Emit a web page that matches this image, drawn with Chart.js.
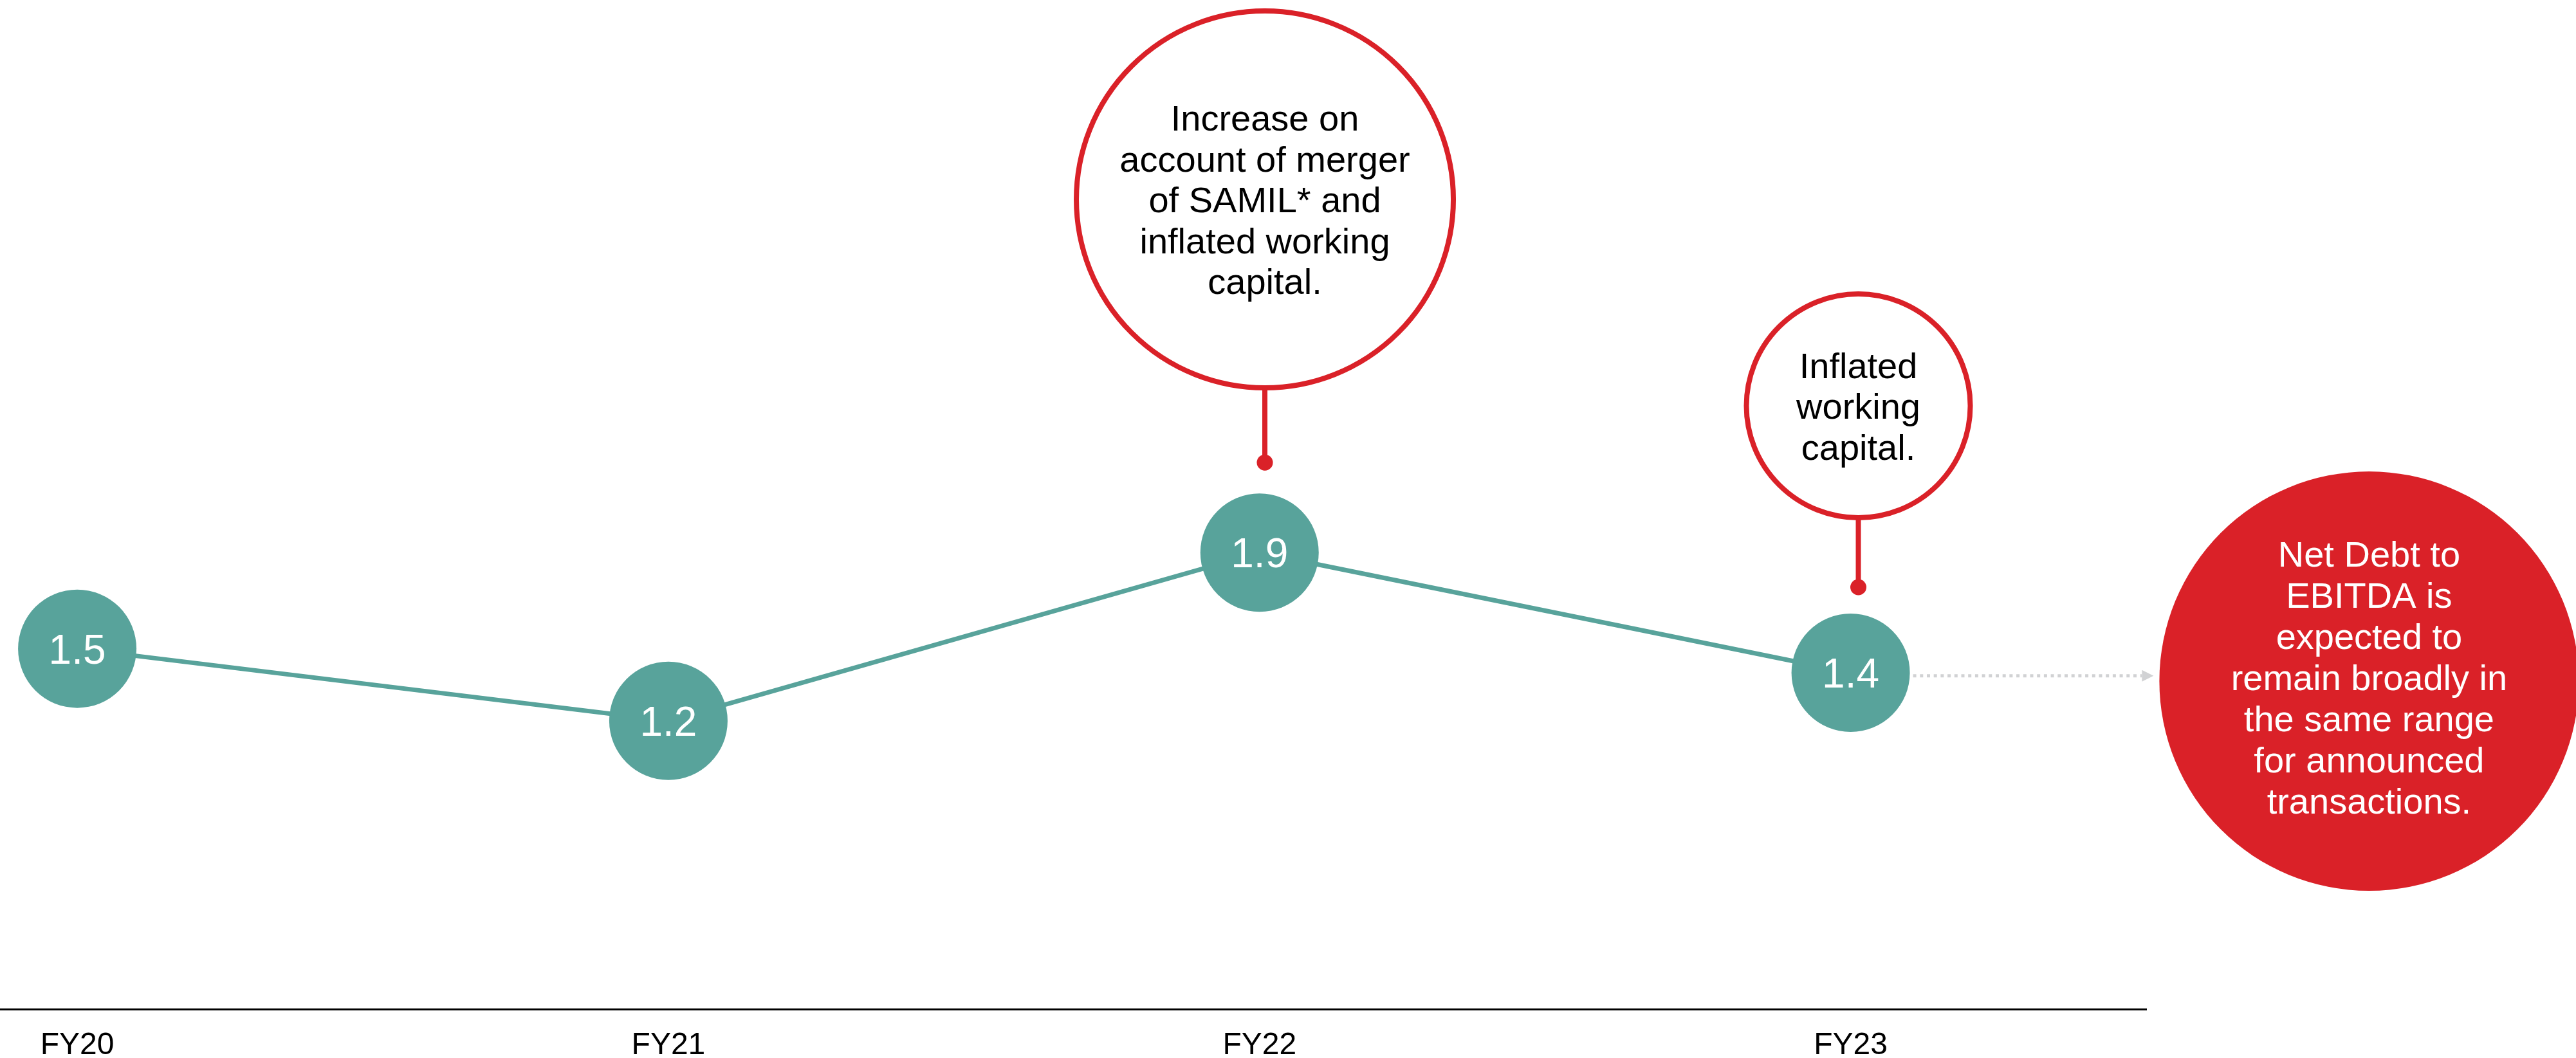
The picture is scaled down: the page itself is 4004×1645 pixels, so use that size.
<!DOCTYPE html>
<html>
<head>
<meta charset="utf-8">
<script src="https://cdn.jsdelivr.net/npm/chart.js@4"></script>
<style>
  html, body { margin: 0; padding: 0; background: #fff; overflow: hidden; }
  canvas { display: block; }
</style>
</head>
<body>
<canvas id="chart" width="4004" height="1645"></canvas>
<script>
// Net Debt to EBITDA by financial year
const categories = ['FY20', 'FY21', 'FY22', 'FY23'];
const netDebtToEbitda = [1.5, 1.2, 1.9, 1.4];

// Callout texts
const noteFY22 = ['Increase on', 'account of merger', 'of SAMIL* and', 'inflated working', 'capital.'];
const noteFY23 = ['Inflated', 'working', 'capital.'];
const outlookNote = ['Net Debt to', 'EBITDA is', 'expected to', 'remain broadly in', 'the same range', 'for announced', 'transactions.'];

const FONT = '"Liberation Sans", Arial, Helvetica, sans-serif';
const TEAL = '#58A39B';
const RED = '#DA2128';
const GREY = '#D1D2D4';

Chart.defaults.font.family = FONT;

// centred multi-line text, vertically centred on the cap height
function drawTextBlock(ctx, lines, cx, cy, size, lineHeight, color) {
  ctx.font = size + 'px ' + FONT;
  ctx.fillStyle = color;
  ctx.textAlign = 'center';
  ctx.textBaseline = 'alphabetic';
  const cap = size * 0.716;
  const first = cy - (lines.length - 1) * lineHeight / 2 + cap / 2;
  lines.forEach((t, i) => ctx.fillText(t, cx, first + i * lineHeight));
}

const calloutPlugin = {
  id: 'callouts',
  afterDatasetsDraw(chart, args, opts) {
    const { ctx, scales: { x, y } } = chart;
    const meta = chart.getDatasetMeta(0);
    ctx.save();

    // value inside each bubble
    meta.data.forEach((pt, i) => {
      drawTextBlock(ctx, [netDebtToEbitda[i].toFixed(1)], pt.x, pt.y, 64, 0, '#ffffff');
    });

    // outlined callouts with stem and dot
    opts.notes.forEach(n => {
      const cx = x.getPixelForValue(n.x);
      const cy = y.getPixelForValue(n.y);
      const dotY = y.getPixelForValue(n.dotY);
      ctx.strokeStyle = RED;
      ctx.lineWidth = 8;
      ctx.beginPath();
      ctx.arc(cx, cy, n.radius, 0, Math.PI * 2);
      ctx.stroke();
      ctx.beginPath();
      ctx.moveTo(cx, cy + n.radius);
      ctx.lineTo(cx, dotY);
      ctx.stroke();
      ctx.fillStyle = RED;
      ctx.beginPath();
      ctx.arc(cx, dotY, 12.5, 0, Math.PI * 2);
      ctx.fill();
      drawTextBlock(ctx, n.lines, cx, cy, 56, 63.5, '#000000');
    });

    // outlook bubble
    const o = opts.outlook;
    const ox = x.getPixelForValue(o.x);
    const oy = y.getPixelForValue(o.y);
    ctx.fillStyle = RED;
    ctx.beginPath();
    ctx.arc(ox, oy, o.radius, 0, Math.PI * 2);
    ctx.fill();
    drawTextBlock(ctx, o.lines, ox, oy - 6, 56, 64, '#ffffff');

    // dotted arrow from the last bubble to the outlook bubble
    const last = meta.data[meta.data.length - 1];
    const ay = y.getPixelForValue(o.arrowY);
    const startX = last.x + opts.bubbleRadius + 5;
    const tipX = ox - o.radius - 9;
    const headLen = 18;
    ctx.strokeStyle = GREY;
    ctx.lineWidth = 5;
    ctx.setLineDash([5, 5.7]);
    ctx.beginPath();
    ctx.moveTo(startX, ay);
    ctx.lineTo(tipX - headLen, ay);
    ctx.stroke();
    ctx.setLineDash([]);
    ctx.fillStyle = GREY;
    ctx.beginPath();
    ctx.moveTo(tipX - headLen, ay - 9);
    ctx.lineTo(tipX, ay);
    ctx.lineTo(tipX - headLen, ay + 9);
    ctx.closePath();
    ctx.fill();

    ctx.restore();
  }
};

new Chart(document.getElementById('chart'), {
  type: 'line',
  data: {
    datasets: [{
      data: netDebtToEbitda.map((v, i) => ({ x: i, y: v })),
      borderColor: TEAL,
      borderWidth: 7,
      pointRadius: 92,
      pointHoverRadius: 92,
      pointBackgroundColor: TEAL,
      pointBorderWidth: 0,
      pointHoverBorderWidth: 0,
      tension: 0,
      clip: false
    }]
  },
  options: {
    responsive: false,
    animation: false,
    devicePixelRatio: 1,
    events: [],
    layout: { autoPadding: false, padding: { left: 0, right: 668, top: 0, bottom: 0 } },
    plugins: {
      legend: { display: false },
      tooltip: { enabled: false },
      callouts: {
        bubbleRadius: 92,
        notes: [
          { x: 2.009, y: 3.37, radius: 293, dotY: 2.275, lines: noteFY22 },
          { x: 3.013, y: 2.511, radius: 174, dotY: 1.756, lines: noteFY23 }
        ],
        outlook: { x: 3.877, y: 1.365, radius: 326, arrowY: 1.387, lines: outlookNote }
      }
    },
    scales: {
      x: {
        type: 'linear',
        min: -0.1307,
        max: 3.5,
        grid: { display: false },
        border: { display: true, color: '#000000', width: 3 },
        afterBuildTicks: (scale) => { scale.ticks = categories.map((c, i) => ({ value: i })); },
        afterFit: (scale) => { scale.height = 76; },
        ticks: {
          autoSkip: false,
          maxRotation: 0,
          padding: 20,
          color: '#000000',
          font: { size: 48, lineHeight: 1.2 },
          callback: (v) => categories[v]
        }
      },
      y: {
        display: false,
        min: 0,
        max: 4.2
      }
    }
  },
  plugins: [calloutPlugin]
});
</script>
</body>
</html>
